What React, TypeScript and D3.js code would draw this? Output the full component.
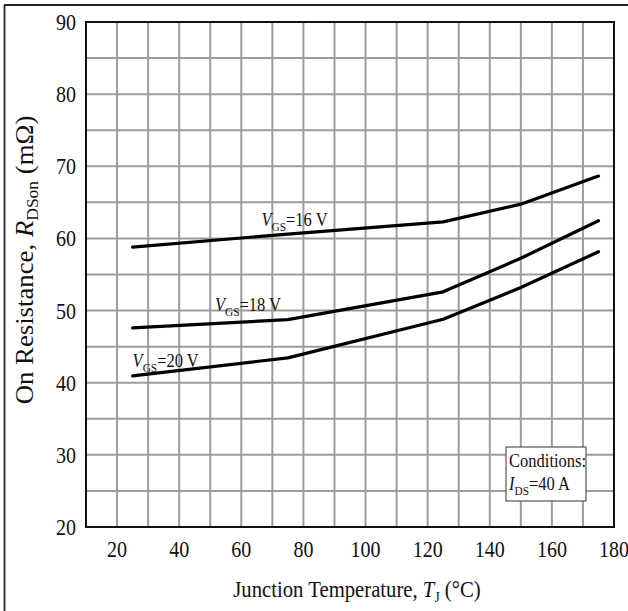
import React from "react";
import * as d3 from "d3";

const temps = [25, 75, 125, 150, 175];
const vgs16 = [58.8, 60.6, 62.3, 64.75, 68.65];
const vgs18 = [47.6, 48.75, 52.6, 57.25, 62.45];
const vgs20 = [40.95, 43.45, 48.8, 53.2, 58.15];
const seriesNames = ["16", "18", "20"];
const xTicks = [20, 40, 60, 80, 100, 120, 140, 160, 180];
const yTicks = [20, 30, 40, 50, 60, 70, 80, 90];
const conditionsText = ["Conditions:", "40 A"];

const W = 628, H = 611;
const m = { left: 86, top: 22, right: 614, bottom: 527 };
const FONT = "'Liberation Serif', 'Times New Roman', serif";
const SX = 0.87;

const x = d3.scaleLinear().domain([10, 180]).range([m.left, m.right]);
const y = d3.scaleLinear().domain([20, 90]).range([m.bottom, m.top]);

function T({ x: tx, y: ty, anchor = "start", size, children, rotate = 0, sx = SX }: any) {
  return (
    <g transform={`translate(${tx},${ty}) rotate(${rotate}) scale(${sx},1)`}>
      <text x={0} y={0} textAnchor={anchor} fontFamily={FONT} fontSize={size} fill="#111">
        {children}
      </text>
    </g>
  );
}

export default function App() {
  const line = d3
    .line<[number, number]>()
    .x((d) => x(d[0]))
    .y((d) => y(d[1]))
    .curve(d3.curveLinear);
  const series = [vgs16, vgs18, vgs20];
  const vGrid = d3.range(20, 180, 10);
  const hGrid = d3.range(25, 90, 5);
  const labelPos = [
    { t: 66.5, v: 61.7 },
    { t: 51.5, v: 49.9 },
    { t: 25, v: 42.2 },
  ];
  return (
    <svg
      width={W}
      height={H}
      style={{ position: "fixed", left: 0, top: 0, background: "#fff" }}
    >
      <rect x={0} y={0} width={W} height={H} fill="#fff" />
      <line x1={4.5} y1={5} x2={4.5} y2={H} stroke="#222" strokeWidth={1.8} />
      <line x1={4} y1={5} x2={W} y2={5} stroke="#222" strokeWidth={1.8} />
      {vGrid.map((v) => (
        <line key={"v" + v} x1={x(v)} x2={x(v)} y1={m.top} y2={m.bottom} stroke="#9c9c9c" strokeWidth={2} />
      ))}
      {hGrid.map((v) => (
        <line key={"h" + v} x1={m.left} x2={m.right} y1={y(v)} y2={y(v)} stroke="#9c9c9c" strokeWidth={2} />
      ))}
      <rect x={m.left} y={m.top} width={m.right - m.left} height={m.bottom - m.top} fill="none" stroke="#111" strokeWidth={2} />
      {series.map((s, i) => (
        <path
          key={i}
          d={line(temps.map((t, j) => [t, s[j]] as [number, number])) || ""}
          fill="none"
          stroke="#000"
          strokeWidth={3.2}
          strokeLinecap="round"
          strokeLinejoin="round"
        />
      ))}
      {seriesNames.map((n, i) => (
        <T key={n} x={x(labelPos[i].t)} y={y(labelPos[i].v)} size={19}>
          <tspan fontStyle="italic">V</tspan>
          <tspan fontSize={13} dy={5}>GS</tspan>
          <tspan dy={-5}>={n} V</tspan>
        </T>
      ))}
      {yTicks.map((v) => (
        <T key={"yt" + v} x={76} y={y(v) + 8} anchor="end" size={23}>
          {v}
        </T>
      ))}
      {xTicks.map((v) => (
        <T key={"xt" + v} x={x(v)} y={557} anchor="middle" size={23}>
          {v}
        </T>
      ))}
      <rect x={506} y={447} width={80} height={54} fill="#fff" stroke="#555" strokeWidth={1.2} />
      <T x={509} y={467} size={19}>{conditionsText[0]}</T>
      <T x={509} y={490} size={19}>
        <tspan fontStyle="italic">I</tspan>
        <tspan fontSize={13} dy={5}>DS</tspan>
        <tspan dy={-5}>={conditionsText[1]}</tspan>
      </T>
      <T x={357} y={597} anchor="middle" size={23} sx={0.9}>
        Junction Temperature, <tspan fontStyle="italic">T</tspan>
        <tspan fontSize={15} dy={5}>J</tspan>
        <tspan dy={-5}> (°C)</tspan>
      </T>
      <g transform="translate(33,260) rotate(-90) scale(1.03,1)">
        <text x={0} y={0} textAnchor="middle" fontFamily={FONT} fontSize={26} fill="#111">
          On Resistance, <tspan fontStyle="italic">R</tspan>
          <tspan fontSize={17} dy={5}>DSon</tspan>
          <tspan dy={-5}> (mΩ)</tspan>
        </text>
      </g>
    </svg>
  );
}
